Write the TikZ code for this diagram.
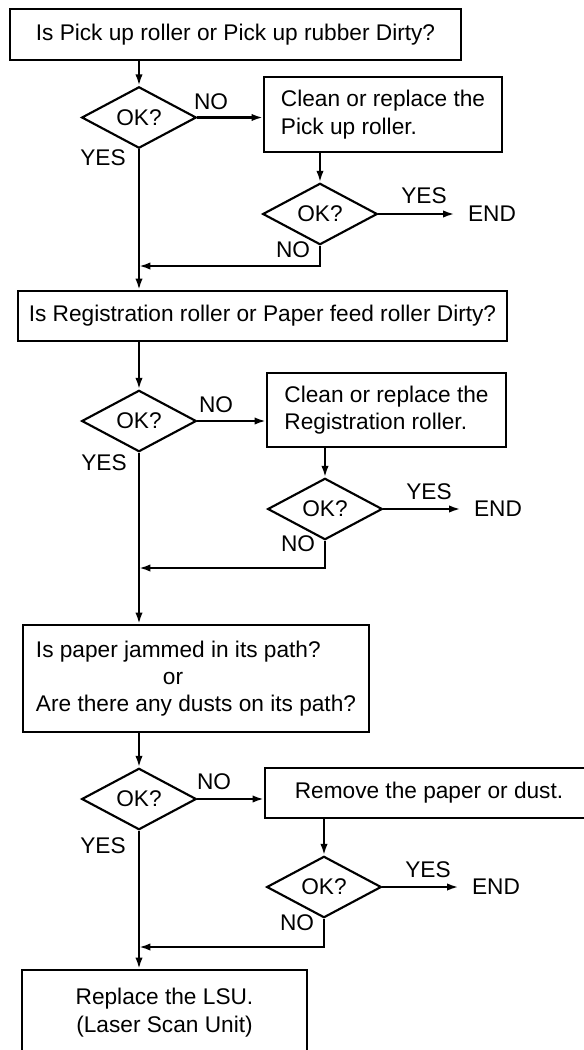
\documentclass[tikz,border=0pt]{standalone}
\usepackage{fontspec}
\setmainfont{Liberation Sans}
\usetikzlibrary{shapes.geometric, arrows.meta}
\tikzset{
    stepbox/.style={draw, line width=1.6pt, align=left, inner sep=0pt},
    decision/.style={diamond, draw, line width=1.6pt, inner sep=0pt, minimum width=86pt, minimum height=37pt},
    flowlabel/.style={inner sep=0pt},
    flow/.style={line width=1.6pt, -{Latex[length=8.5pt,width=5.5pt]}}
}

\begin{document}
\begin{tikzpicture}[x=0.75pt, y=-0.75pt, font=\fontsize{17}{20.5}\selectfont]
            \useasboundingbox (0,0) rectangle (584,1050);

            % pick up roller check
            \node[stepbox, minimum width=338pt, minimum height=38pt] (pick) at (235.5,34.5) {Is Pick up roller or Pick up rubber Dirty?};
            \node[decision] (ok1) at (139,117.5) {OK?};
            \node[stepbox, minimum width=178.5pt, minimum height=56pt] (clean1) at (383,114.5) {Clean or replace the\\Pick up roller.};
            \node[decision] (ok2) at (320,214) {OK?};
            \node[flowlabel] (end1) at (492,214) {END};
            \node[flowlabel] (no1) at (211,102) {NO};
            \node[flowlabel] (yes1) at (103,158) {YES};
            \node[flowlabel] (yes2) at (424,196) {YES};
            \node[flowlabel] (no2) at (293,250) {NO};
            \coordinate (join1) at (139,266);

            % registration roller check
            \node[stepbox, minimum width=366.75pt, minimum height=37.5pt] (reg) at (262.5,316) {Is Registration roller or Paper feed roller Dirty?};
            \node[decision] (ok3) at (139,421) {OK?};
            \node[stepbox, minimum width=179.25pt, minimum height=55.5pt] (clean2) at (386.5,410) {Clean or replace the\\Registration roller.};
            \node[decision] (ok4) at (325,509) {OK?};
            \node[flowlabel] (end2) at (498,509) {END};
            \node[flowlabel] (no3) at (216,405) {NO};
            \node[flowlabel] (yes3) at (104,463) {YES};
            \node[flowlabel] (yes4) at (429,492) {YES};
            \node[flowlabel] (no4) at (298,544) {NO};
            \coordinate (join2) at (139,568);

            % paper path check
            \node[stepbox, minimum width=259.5pt, minimum height=80.25pt] (jam) at (196,678.5) {Is paper jammed in its path?\\\hspace*{5.6em}or\\Are there any dusts on its path?};
            \node[decision] (ok5) at (139,799) {OK?};
            \node[stepbox, minimum width=246pt, minimum height=37.5pt] (remove) at (429,793) {Remove the paper or dust.};
            \node[decision] (ok6) at (324,887) {OK?};
            \node[flowlabel] (end3) at (496,887) {END};
            \node[flowlabel] (no5) at (214,782) {NO};
            \node[flowlabel] (yes5) at (103,846) {YES};
            \node[flowlabel] (yes6) at (428,870) {YES};
            \node[flowlabel] (no6) at (297,923) {NO};
            \coordinate (join3) at (139,947);

            \node[stepbox, align=center, minimum width=213.75pt, minimum height=63.75pt] (lsu) at (164.5,1012.5) {Replace the LSU.\\(Laser Scan Unit)};

            % connectors
            \draw[flow] (ok1.north |- pick.south) -- (ok1.north);
            \draw[flow] (ok1.east) -- (ok1.east -| clean1.west);
            \draw[flow] (ok2.north |- clean1.south) -- (ok2.north);
            \draw[flow, shorten >=10pt] (ok2.east) -- (end1.west);
            \draw[flow] (ok2.south) |- (join1);
            \draw[flow] (ok1.south) -- (ok1.south |- reg.north);

            \draw[flow] (ok3.north |- reg.south) -- (ok3.north);
            \draw[flow] (ok3.east) -- (ok3.east -| clean2.west);
            \draw[flow] (ok4.north |- clean2.south) -- (ok4.north);
            \draw[flow, shorten >=10pt] (ok4.east) -- (end2.west);
            \draw[flow] (ok4.south) |- (join2);
            \draw[flow] (ok3.south) -- (ok3.south |- jam.north);

            \draw[flow] (ok5.north |- jam.south) -- (ok5.north);
            \draw[flow] (ok5.east) -- (ok5.east -| remove.west);
            \draw[flow] (ok6.north |- remove.south) -- (ok6.north);
            \draw[flow, shorten >=10pt] (ok6.east) -- (end3.west);
            \draw[flow] (ok6.south) |- (join3);
            \draw[flow] (ok5.south) -- (ok5.south |- lsu.north);
        \end{tikzpicture}
\end{document}
